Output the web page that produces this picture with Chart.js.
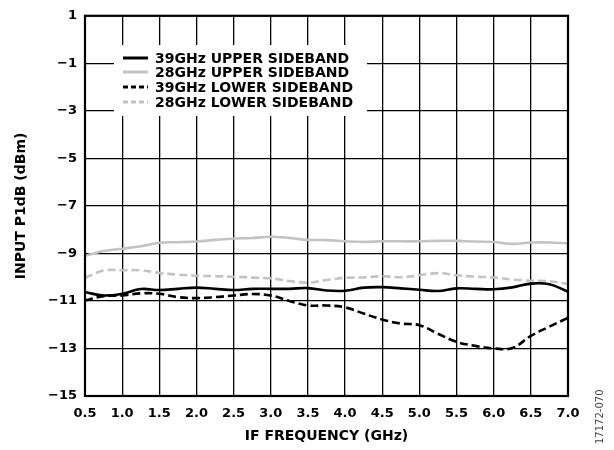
<!DOCTYPE html>
<html>
<head>
<meta charset="utf-8">
<script src="https://cdn.jsdelivr.net/npm/chart.js@4.4.1/dist/chart.umd.min.js"></script>
<style>
  html, body { margin: 0; padding: 0; background: #fff; }
  #wrap { position: relative; width: 614px; height: 450px; }
</style>
</head>
<body>
<div id="wrap"><canvas id="chart" width="614" height="450"></canvas></div>
<script>
const freqGHz = [0.5, 0.75, 1.0, 1.25, 1.5, 1.75, 2.0, 2.25, 2.5, 2.75, 3.0, 3.25, 3.5, 3.75,
                 4.0, 4.25, 4.5, 4.75, 5.0, 5.25, 5.5, 5.75, 6.0, 6.25, 6.5, 6.75, 7.0];

const upper39 = [-10.63, -10.77, -10.70, -10.50, -10.54, -10.49, -10.44, -10.49, -10.54, -10.49,
                 -10.49, -10.49, -10.46, -10.56, -10.57, -10.44, -10.42, -10.47, -10.53, -10.58,
                 -10.47, -10.49, -10.51, -10.43, -10.27, -10.30, -10.61];
const upper28 = [-9.10, -8.90, -8.80, -8.70, -8.55, -8.53, -8.50, -8.43, -8.37, -8.35,
                 -8.30, -8.35, -8.43, -8.44, -8.49, -8.52, -8.49, -8.49, -8.49, -8.47,
                 -8.47, -8.50, -8.52, -8.60, -8.54, -8.54, -8.58];
const lower39 = [-10.98, -10.80, -10.77, -10.68, -10.70, -10.84, -10.88, -10.84, -10.77, -10.71,
                 -10.77, -11.00, -11.19, -11.19, -11.27, -11.53, -11.78, -11.95, -12.02, -12.38,
                 -12.72, -12.89, -13.00, -12.98, -12.47, -12.08, -11.71];
const lower28 = [-10.03, -9.72, -9.71, -9.71, -9.82, -9.89, -9.94, -9.96, -9.98, -10.02,
                 -10.05, -10.16, -10.23, -10.12, -10.03, -10.01, -9.96, -10.00, -9.92, -9.83,
                 -9.92, -9.98, -10.01, -10.10, -10.15, -10.17, -10.29];

const seriesNames = ["39GHz UPPER SIDEBAND", "28GHz UPPER SIDEBAND", "39GHz LOWER SIDEBAND", "28GHz LOWER SIDEBAND"];
const xTitle = "IF FREQUENCY (GHz)";
const yTitle = "INPUT P1dB (dBm)";
const figureId = "17172-070";

const FONT = "'DejaVu Sans', Verdana, sans-serif";
const LIGHT = "#c3c3c3";

function points(ys) {
    return ys.map((y, i) => ({ x: freqGHz[i], y: y }));
}

const styles = [
    { color: "#000", dash: [], legendDash: [] },
    { color: LIGHT, dash: [], legendDash: [] },
    { color: "#000", dash: [8, 4], legendDash: [5, 3] },
    { color: LIGHT, dash: [8, 4], legendDash: [5, 3] }
];

const datasets = [upper39, upper28, lower39, lower28].map((ys, i) => ({
    label: seriesNames[i],
    data: points(ys),
    borderColor: styles[i].color,
    borderDash: styles[i].dash,
    borderWidth: 2.6,
    pointRadius: 0,
    tension: 0.4,
    fill: false
}));

const legendBox = {
    id: "legendBox",
    afterDatasetsDraw(chart) {
        const ctx = chart.ctx;
        ctx.save();
        ctx.fillStyle = "#fff";
        ctx.fillRect(114, 45, 253, 71);
        const rows = [58, 72, 87, 102];
        ctx.font = "bold 14px " + FONT;
        ctx.textBaseline = "middle";
        ctx.textAlign = "left";
        seriesNames.forEach((name, i) => {
            ctx.strokeStyle = styles[i].color;
            ctx.lineWidth = 3;
            ctx.setLineDash(styles[i].legendDash);
            ctx.beginPath();
            ctx.moveTo(123, rows[i]);
            ctx.lineTo(148, rows[i]);
            ctx.stroke();
            ctx.fillStyle = "#000";
            ctx.fillText(name, 155, rows[i] + 1);
        });
        ctx.setLineDash([]);
        // plot frame
        const a = chart.chartArea;
        ctx.strokeStyle = "#000";
        ctx.lineWidth = 2.2;
        ctx.strokeRect(a.left, a.top, a.right - a.left, a.bottom - a.top);
        // figure id
        ctx.translate(600, 444);
        ctx.rotate(-Math.PI / 2);
        ctx.font = "10px " + FONT;
        ctx.fillStyle = "#444";
        ctx.textAlign = "left";
        ctx.textBaseline = "middle";
        ctx.fillText(figureId, 0, 0);
        ctx.restore();
    }
};

new Chart(document.getElementById("chart"), {
    type: "line",
    data: { datasets: datasets },
    options: {
        responsive: false,
        animation: false,
        layout: { padding: { top: 10, right: 46, left: 0, bottom: 0 } },
        plugins: { legend: { display: false }, tooltip: { enabled: false } },
        scales: {
            x: {
                type: "linear",
                min: 0.5,
                max: 7.0,
                afterFit: (s) => { s.height = 54; },
                ticks: {
                    stepSize: 0.5,
                    padding: 10,
                    color: "#000",
                    font: { family: FONT, size: 13, weight: "bold" },
                    callback: (v) => v.toFixed(1)
                },
                grid: { color: "#000", lineWidth: 1.3, drawTicks: false },
                border: { display: false },
                title: {
                    display: true,
                    text: xTitle,
                    color: "#000",
                    font: { family: FONT, size: 14, weight: "bold" },
                    padding: { top: 4, bottom: 5 }
                }
            },
            y: {
                min: -15,
                max: 1,
                afterFit: (s) => { s.width = 85; },
                ticks: {
                    stepSize: 2,
                    padding: 8,
                    color: "#000",
                    font: { family: FONT, size: 13, weight: "bold" },
                    callback: (v) => String(v).replace("-", "\u2212")
                },
                grid: { color: "#000", lineWidth: 1.3, drawTicks: false },
                border: { display: false },
                title: {
                    display: true,
                    text: yTitle,
                    color: "#000",
                    font: { family: FONT, size: 14, weight: "bold" },
                    padding: { top: 13, bottom: 6 }
                }
            }
        }
    },
    plugins: [legendBox]
});
</script>
</body>
</html>
